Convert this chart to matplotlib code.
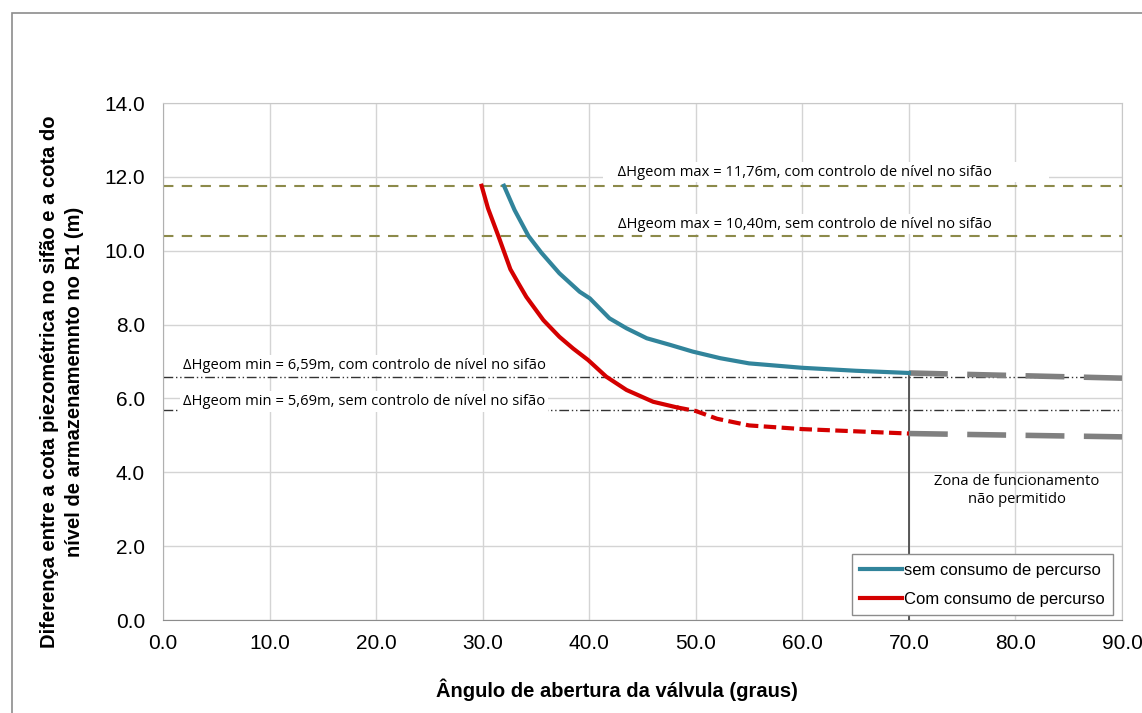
import matplotlib
matplotlib.use("Agg")
import matplotlib.pyplot as plt
from matplotlib.patches import Rectangle

# curva sem consumo de percurso
x_sem = [32.0, 33.0, 34.3, 35.5, 37.2, 39.1, 40.06, 41.9, 43.5, 45.4, 47.6, 49.7, 52.3, 55.0, 60.0, 65.0, 70.0]
y_sem = [11.76, 11.1, 10.4, 9.95, 9.39, 8.89, 8.71, 8.17, 7.9, 7.63, 7.45, 7.27, 7.09, 6.95, 6.83, 6.75, 6.69]

# curva com consumo de percurso (parte continua e parte tracejada)
x_com = [29.9, 30.5, 31.5, 32.6, 33.35, 34.1, 35.7, 37.2, 38.5, 39.9, 41.6, 43.5, 46.0, 48.2]
y_com = [11.76, 11.15, 10.38, 9.5, 9.12, 8.75, 8.12, 7.67, 7.35, 7.04, 6.59, 6.23, 5.91, 5.76]
x_com_tr = [48.2, 50.0, 52.0, 55.0, 60.0, 65.0, 70.0]
y_com_tr = [5.76, 5.66, 5.45, 5.27, 5.17, 5.11, 5.05]

# zona nao permitida
x_zona = [70.0, 90.0]
y_zona_sem = [6.69, 6.55]
y_zona_com = [5.05, 4.96]

h_max = [11.76, 10.40]
h_min = [6.59, 5.69]
txt_max = ["ΔHgeom max = 11,76m, com controlo de nível no sifão",
           "ΔHgeom max = 10,40m, sem controlo de nível no sifão"]
txt_min = ["ΔHgeom min = 6,59m, com controlo de nível no sifão",
           "ΔHgeom min = 5,69m, sem controlo de nível no sifão"]

plt.rcParams['font.family'] = ['Liberation Sans', 'DejaVu Sans']

fig = plt.figure(figsize=(11.42, 7.13), dpi=100)
fig.patches.append(Rectangle((0.0105, -0.1), 1.2, 1.0818, transform=fig.transFigure,
                             fill=False, edgecolor='#8c8c8c', linewidth=1.2))
ax = fig.add_axes([0.1427, 0.1304, 0.8398, 0.7251])

ax.set_xlim(0, 90)
ax.set_ylim(0, 14)
ax.set_xticks(range(0, 91, 10))
ax.set_yticks(range(0, 15, 2))
ax.set_xticklabels(['%.1f' % v for v in range(0, 91, 10)], fontsize=15)
ax.set_yticklabels(['%.1f' % v for v in range(0, 15, 2)], fontsize=15)
ax.tick_params(axis='x', length=0, pad=10)
ax.tick_params(axis='y', length=0, pad=13)
ax.grid(True, color='#d4d4d4', linewidth=1)
ax.set_axisbelow(True)
for s in ax.spines.values():
    s.set_color('#c8c8c8')
ax.spines['bottom'].set_color('#8c8c8c')
ax.spines['left'].set_color('#b0b0b0')

# linhas horizontais de referencia
for h in h_max:
    ax.axhline(h, color='#8c8a4a', linewidth=1.5, linestyle=(0, (5, 4)), zorder=2)
for h in h_min:
    ax.axhline(h, color='#333333', linewidth=1, linestyle=(0, (7, 2, 1, 2, 1, 2)), zorder=2)

ax.plot([70, 70], [0, y_sem[-1]], color='#404040', linewidth=1.2, zorder=3)

ax.plot(x_zona, y_zona_sem, color='#808080', linewidth=4, linestyle=(0, (7, 3.5)), zorder=3)
ax.plot(x_zona, y_zona_com, color='#808080', linewidth=4, linestyle=(0, (7, 3.5)), zorder=3)

ax.plot(x_sem, y_sem, color='#31849b', linewidth=3, label='sem consumo de percurso', zorder=4)
ax.plot(x_com, y_com, color='#d40000', linewidth=3, label='Com consumo de percurso', zorder=4)
ax.plot(x_com_tr, y_com_tr, color='#d40000', linewidth=3, linestyle=(0, (3, 1.3)), zorder=4)

box = dict(facecolor='white', edgecolor='none', pad=2)
fnt = ['Open Sans', 'DejaVu Sans']
ax.text(41.6, 12.13, '   ' + txt_max[0] + '              ', fontsize=10.6, family=fnt,
        va='center', ha='left', bbox=box, zorder=3)
ax.text(42.7, 10.72, txt_max[1], fontsize=10.6, family=fnt,
        va='center', ha='left', bbox=box, zorder=3)
ax.text(1.9, 6.9, txt_min[0], fontsize=10.6, family=fnt,
        va='center', ha='left', bbox=box, zorder=3)
ax.text(1.9, 5.92, txt_min[1], fontsize=10.6, family=fnt,
        va='center', ha='left', bbox=box, zorder=3)
ax.text(80.1, 3.95, 'Zona de funcionamento\nnão permitido', fontsize=10.6,
        family=fnt, ha='center', va='top', linespacing=1.3)

leg = ax.legend(loc='lower right', fontsize=12, frameon=True, fancybox=False, framealpha=1,
                handlelength=2.5, handletextpad=0.1, labelspacing=0.85, borderaxespad=0.3,
                borderpad=0.5, bbox_to_anchor=(0.9955, 0.0))
leg.get_frame().set_edgecolor('#8c8c8c')
leg.get_frame().set_linewidth(1)
leg.set_zorder(5)

ax.set_xlabel('Ângulo de abertura da válvula (graus)', fontsize=14.5, fontweight='bold', va='center')
ax.xaxis.set_label_coords(0.473, -0.135)
ax.set_ylabel('Diferença entre a cota piezométrica no sifão e a cota do\nnível de armazenamemnto no R1 (m)',
              fontsize=14.5, fontweight='bold', va='center', linespacing=1.4)
ax.yaxis.set_label_coords(-0.105, 0.46)

fig.savefig('out.png', dpi=100)
